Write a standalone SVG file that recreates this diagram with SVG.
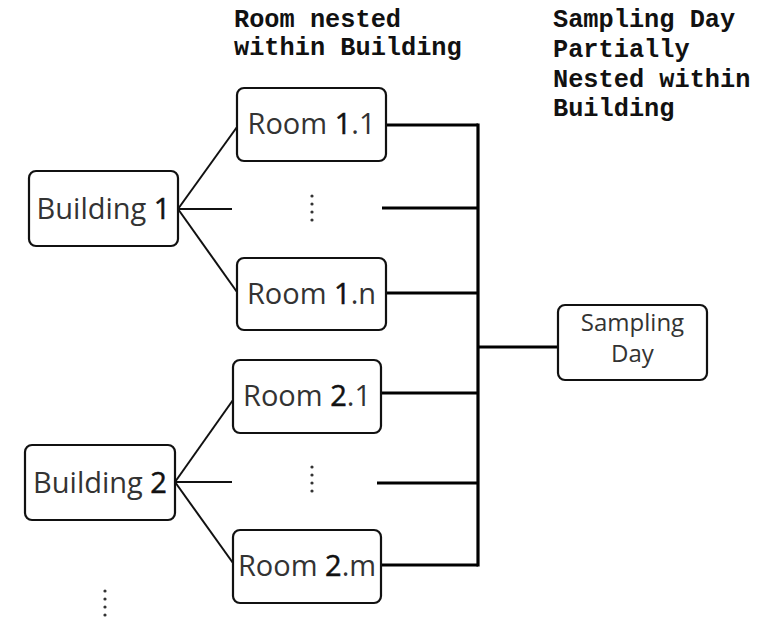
<svg xmlns="http://www.w3.org/2000/svg" width="776" height="620" viewBox="0 0 776 620">
  <style>
    .box { fill: #ffffff; stroke: #111111; stroke-width: 2.2; }
    .lbl { font-family: "Open Sans", "Liberation Sans", sans-serif; fill: #333333; text-anchor: middle; }
    .num { fill: #111111; stroke: #111111; stroke-width: 0.5; }
    .title { font-family: "Liberation Mono", "DejaVu Sans Mono", monospace; font-weight: bold; font-size: 25.3px; fill: #111111; }
    .branch { stroke: #111111; stroke-width: 2; fill: none; }
    .bus { stroke: #000000; stroke-width: 3.2; fill: none; }
    .dot { fill: #333333; }
  </style>

  <!-- headings -->
  <g id="heading-room">
    <text class="title" x="234" y="27">Room nested</text>
    <text class="title" x="234" y="55">within Building</text>
  </g>
  <g id="heading-day">
    <text class="title" x="553" y="27">Sampling Day</text>
    <text class="title" x="553" y="57">Partially</text>
    <text class="title" x="553" y="87">Nested within</text>
    <text class="title" x="553" y="116">Building</text>
  </g>

  <!-- connectors -->
  <g id="connectors">
    <!-- building 1 fan-out -->
    <line class="branch" x1="178" y1="209" x2="237" y2="127"/>
    <line class="branch" x1="178" y1="209" x2="232" y2="209"/>
    <line class="branch" x1="178" y1="209" x2="237" y2="292"/>
    <!-- building 2 fan-out -->
    <line class="branch" x1="175" y1="482" x2="233" y2="400"/>
    <line class="branch" x1="175" y1="482" x2="232" y2="482"/>
    <line class="branch" x1="175" y1="482" x2="233" y2="563"/>
    <!-- rooms to shared bus -->
    <line class="bus" x1="386" y1="125" x2="478" y2="125"/>
    <line class="bus" x1="382" y1="208" x2="478" y2="208"/>
    <line class="bus" x1="386" y1="293" x2="478" y2="293"/>
    <line class="bus" x1="381" y1="393" x2="478" y2="393"/>
    <line class="bus" x1="377" y1="483" x2="478" y2="483"/>
    <line class="bus" x1="381" y1="565" x2="478" y2="565"/>
    <line class="bus" x1="478" y1="123.5" x2="478" y2="566.5"/>
    <line class="bus" x1="478" y1="347" x2="558" y2="347"/>
  </g>

  <!-- nodes -->
  <g id="building-1">
    <rect class="box" x="29" y="171" width="149" height="75" rx="7"/>
    <text class="lbl" x="103.5" y="219" font-size="29">Building <tspan class="num">1</tspan></text>
  </g>
  <g id="room-1-1">
    <rect class="box" x="237" y="88" width="149" height="73" rx="7"/>
    <text class="lbl" x="311.5" y="134" font-size="29">Room <tspan class="num">1</tspan>.1</text>
  </g>
  <g id="room-1-gap">
    <circle class="dot" cx="312" cy="196" r="1.6"/>
    <circle class="dot" cx="312" cy="204" r="1.6"/>
    <circle class="dot" cx="312" cy="212" r="1.6"/>
    <circle class="dot" cx="312" cy="220" r="1.6"/>
  </g>
  <g id="room-1-n">
    <rect class="box" x="237" y="258" width="149" height="72" rx="7"/>
    <text class="lbl" x="311.5" y="304" font-size="29">Room <tspan class="num">1</tspan>.n</text>
  </g>
  <g id="building-2">
    <rect class="box" x="25" y="445" width="150" height="75" rx="7"/>
    <text class="lbl" x="100" y="493" font-size="29">Building <tspan class="num">2</tspan></text>
  </g>
  <g id="room-2-1">
    <rect class="box" x="233" y="360" width="148" height="73" rx="7"/>
    <text class="lbl" x="307" y="406" font-size="29">Room <tspan class="num">2</tspan>.1</text>
  </g>
  <g id="room-2-gap">
    <circle class="dot" cx="312" cy="467" r="1.6"/>
    <circle class="dot" cx="312" cy="475" r="1.6"/>
    <circle class="dot" cx="312" cy="483" r="1.6"/>
    <circle class="dot" cx="312" cy="491" r="1.6"/>
  </g>
  <g id="room-2-m">
    <rect class="box" x="233" y="530" width="148" height="73" rx="7"/>
    <text class="lbl" x="307" y="576" font-size="29">Room <tspan class="num">2</tspan>.m</text>
  </g>
  <g id="building-more">
    <circle class="dot" cx="105" cy="591" r="1.6"/>
    <circle class="dot" cx="105" cy="599" r="1.6"/>
    <circle class="dot" cx="105" cy="607" r="1.6"/>
    <circle class="dot" cx="105" cy="615" r="1.6"/>
  </g>
  <g id="sampling-day">
    <rect class="box" x="558" y="305" width="149" height="75" rx="7"/>
    <text class="lbl" x="632.5" y="331" font-size="24">Sampling</text>
    <text class="lbl" x="632.5" y="362" font-size="24">Day</text>
  </g>
</svg>
